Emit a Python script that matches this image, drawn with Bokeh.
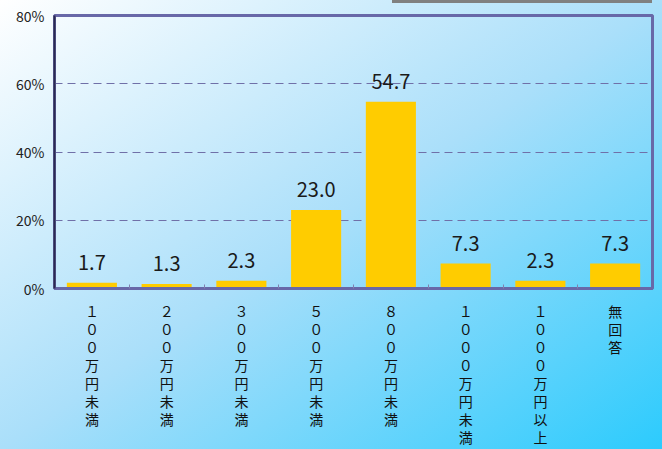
from bokeh.plotting import figure
from bokeh.models import FixedTicker, PrintfTickFormatter, ColumnDataSource, Range1d
from bokeh.core.properties import value
from bokeh.embed import file_html
from bokeh.resources import INLINE

categories = ["１００万円未満", "２００万円未満", "３００万円未満", "５００万円未満",
              "８００万円未満", "１０００万円未満", "１０００万円以上", "無回答"]
values = [1.7, 1.3, 2.3, 23.0, 54.7, 7.3, 2.3, 7.3]
y_ticks = [0, 20, 40, 60, 80]

FONT = "Noto Sans CJK JP"
n = len(categories)
centers = [i + 0.5 for i in range(n)]
bounds = [i for i in range(1, n)]

p = figure(width=662, height=449, output_backend="svg", toolbar_location=None,
           x_range=Range1d(0, n), y_range=Range1d(0, 80),
           min_border_left=54, min_border_right=10, min_border_top=15, min_border_bottom=160)
p.background_fill_color = None
p.border_fill_color = None
p.styles = {"background": "linear-gradient(#808080, #808080) 392px 0px / 260px 3px no-repeat, "
                          "linear-gradient(to bottom right, #ffffff 0%, #aadffa 50%, #2ccbfd 100%)"}

p.outline_line_color = "#6868a8"
p.outline_line_width = 3

src = ColumnDataSource(dict(x=centers, top=values, label=[f"{v:.1f}" for v in values]))
p.vbar(x="x", top="top", width=0.67, bottom=0, source=src, fill_color="#ffcc00", line_color=None)
p.text(x="x", y="top", text="label", source=src, text_align="center", text_baseline="bottom",
       y_offset=-13, text_font=value(FONT), text_font_size="20px", text_color="#1a1a1a")

# grid
p.xgrid.visible = False
p.ygrid.ticker = FixedTicker(ticks=y_ticks[1:-1])
p.ygrid.grid_line_color = "#7070a8"
p.ygrid.grid_line_dash = "8 5"
p.ygrid.grid_line_width = 1

# x axis
xa = p.xaxis[0]
xa.ticker = FixedTicker(ticks=centers, minor_ticks=bounds)
xa.major_label_overrides = {c: "\n".join(list(cat)) for c, cat in zip(centers, categories)}
xa.major_tick_in = 0
xa.major_tick_out = 0
xa.minor_tick_in = 4
xa.minor_tick_out = 0
xa.minor_tick_line_color = "#8080b0"
xa.axis_line_color = "#6868a8"
xa.axis_line_width = 3
xa.major_label_text_font = FONT
xa.major_label_text_font_size = "14px"
xa.major_label_text_color = "#111111"
xa.major_label_text_line_height = 0.9
xa.major_label_standoff = 12

# y axis
ya = p.yaxis[0]
ya.ticker = FixedTicker(ticks=y_ticks)
ya.formatter = PrintfTickFormatter(format="%d%%")
ya.major_tick_in = 0
ya.major_tick_out = 0
ya.minor_tick_line_color = None
ya.axis_line_color = "#2a2a50"
ya.axis_line_width = 2
ya.major_label_text_font = FONT
ya.major_label_text_font_size = "14px"
ya.major_label_text_color = "#222222"
ya.major_label_standoff = 10

open("out.html", "w").write(file_html(p, INLINE))
